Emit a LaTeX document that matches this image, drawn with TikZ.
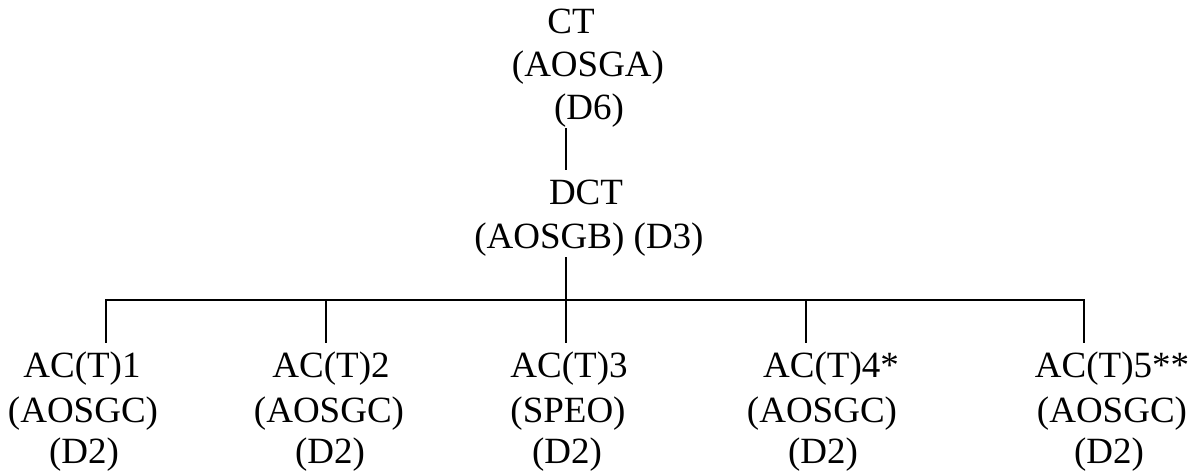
\documentclass[tikz,border=0pt]{standalone}
\usepackage{fontspec}
\setmainfont{Liberation Serif}
\begin{document}
\begin{tikzpicture}[x=1pt,y=-1pt,
  lbl/.style={inner sep=0pt, anchor=base, font=\fontsize{37}{43}\selectfont},
  conn/.style={line width=2.4pt}]
\useasboundingbox (0,0) rectangle (1195,472);
% top
\node[lbl] (ct1) at (571,33) {CT};
\node[lbl] (ct2) at (588,76) {(AOSGA)};
\node[lbl] (ct3) at (589,119) {(D6)};
% middle
\node[lbl] (dct1) at (586,204) {DCT};
\node[lbl] (dct2) at (589,248) {(AOSGB) (D3)};
% bottom
\node[lbl] (a1) at (82,377) {AC(T)1};
\node[lbl] (a1b) at (83,422) {(AOSGC)};
\node[lbl] (a1c) at (84,463) {(D2)};
\node[lbl] (a2) at (331,377) {AC(T)2};
\node[lbl] (a2b) at (329,422) {(AOSGC)};
\node[lbl] (a2c) at (330,463) {(D2)};
\node[lbl] (a3) at (569,377) {AC(T)3};
\node[lbl] (a3b) at (568,422) {(SPEO)};
\node[lbl] (a3c) at (567,463) {(D2)};
\node[lbl] (a4) at (831,377) {AC(T)4*};
\node[lbl] (a4b) at (822,422) {(AOSGC)};
\node[lbl] (a4c) at (823,463) {(D2)};
\node[lbl] (a5) at (1112,377) {AC(T)5**};
\node[lbl] (a5b) at (1112,422) {(AOSGC)};
\node[lbl] (a5c) at (1109,463) {(D2)};
% connector coordinates
\coordinate (t1) at (566,128);
\coordinate (t2) at (566,170);
\coordinate (t3) at (566,257);
\coordinate (hub) at (566,300);
\coordinate (c1) at (106,343);
\coordinate (c2) at (326,343);
\coordinate (c3) at (566,343);
\coordinate (c4) at (806,343);
\coordinate (c5) at (1084,343);
\draw[conn] (t1) -- (t2);
\draw[conn] (t3) -- (hub);
\draw[conn] (hub) -| (c1);
\draw[conn] (hub) -| (c2);
\draw[conn] (hub) -- (c3);
\draw[conn] (hub) -| (c4);
\draw[conn] (hub) -| (c5);
\end{tikzpicture}
\end{document}
